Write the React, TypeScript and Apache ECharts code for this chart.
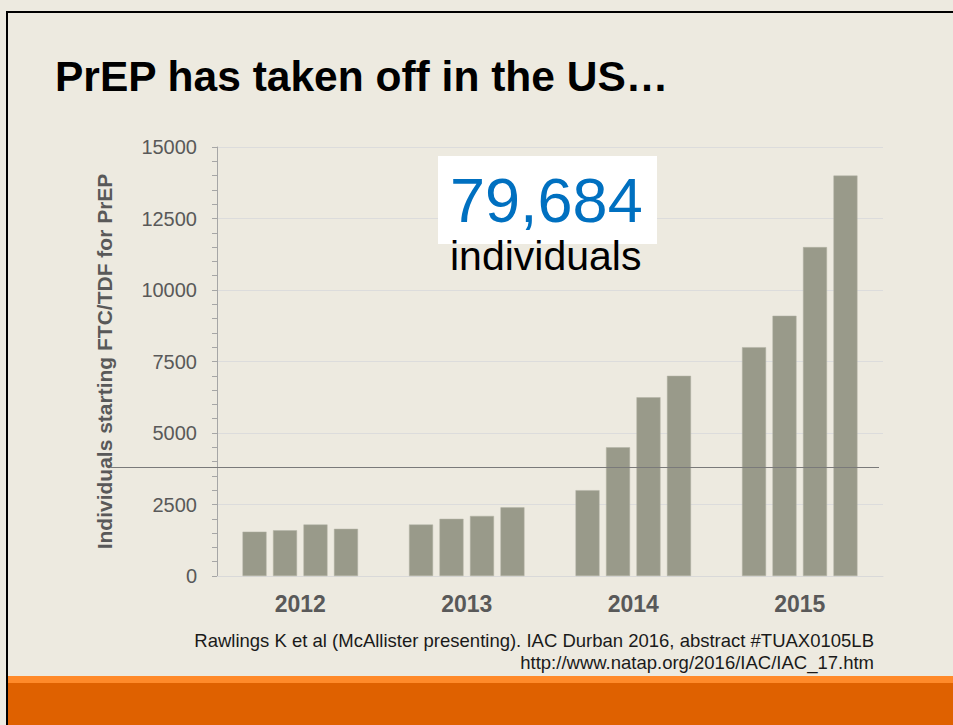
import React, { useEffect, useRef } from "react";
import * as echarts from "echarts";

const years = ["2012", "2013", "2014", "2015"];
const q1 = [1550, 1800, 3000, 8000];
const q2 = [1600, 2000, 4500, 9100];
const q3 = [1800, 2100, 6250, 11500];
const q4 = [1650, 2400, 7000, 14000];
const quarterNames = ["Q1", "Q2", "Q3", "Q4"];
const yMin = 0;
const yMax = 15000;
const yInterval = 2500;

const title = "PrEP has taken off in the US…";
const bigNumber = "79,684";
const bigNumberCaption = "individuals";
const yAxisName = "Individuals starting FTC/TDF for PrEP";
const citation1 = "Rawlings K et al (McAllister presenting). IAC Durban 2016, abstract #TUAX0105LB";
const citation2 = "http://www.natap.org/2016/IAC/IAC_17.htm";

const FONT = "'Liberation Sans', Arial, Helvetica, sans-serif";
const BAR = "#999a8a";
const AXIS_TEXT = "#595959";

export default function App() {
  const ref = useRef<HTMLDivElement>(null);

  useEffect(() => {
    if (!ref.current) return;
    const chart = echarts.init(ref.current, null, { renderer: "svg" });
    const seriesData = [q1, q2, q3, q4];
    chart.setOption({
      animation: false,
      backgroundColor: "#edeae0",
      textStyle: { fontFamily: FONT },
      grid: { left: 217, right: 70, top: 147, bottom: 149, containLabel: false },
      xAxis: {
        type: "category",
        data: years,
        axisLine: { show: true, lineStyle: { color: "#d9d9d9", width: 1 } },
        axisTick: { show: false },
        axisLabel: {
          color: AXIS_TEXT,
          fontSize: 23,
          fontWeight: "bold",
          fontFamily: FONT,
          margin: 16,
        },
      },
      yAxis: {
        type: "value",
        min: yMin,
        max: yMax,
        interval: yInterval,
        name: yAxisName,
        nameLocation: "middle",
        nameGap: 102,
        nameTextStyle: {
          color: AXIS_TEXT,
          fontSize: 21,
          fontWeight: "bold",
          fontFamily: FONT,
        },
        axisLine: { show: true, lineStyle: { color: "#a6a6a6", width: 1 } },
        axisTick: { show: true, length: 5, lineStyle: { color: "#a6a6a6" } },
        minorTick: { show: true, splitNumber: 5, length: 5, lineStyle: { color: "#a6a6a6" } },
        axisLabel: {
          color: AXIS_TEXT,
          fontSize: 20,
          fontFamily: FONT,
          margin: 20,
          formatter: (v: number) => String(v),
        },
        splitLine: { show: true, lineStyle: { color: "#dcdcdc", width: 1 } },
      },
      series: seriesData.map((d, i) => ({
        type: "bar",
        name: quarterNames[i],
        data: d,
        barWidth: 24,
        barGap: "27%",
        itemStyle: { color: BAR, borderColor: "#b3b3a5", borderWidth: 0.5 },
      })),
      graphic: [
        // slide border
        { type: "rect", shape: { x: 6, y: 11, width: 947, height: 2 }, style: { fill: "#000" } },
        { type: "rect", shape: { x: 6, y: 11, width: 2, height: 714 }, style: { fill: "#000" } },
        // orange footer
        { type: "rect", shape: { x: 8, y: 676, width: 945, height: 7 }, style: { fill: "#ff8a2a" } },
        { type: "rect", shape: { x: 8, y: 683, width: 945, height: 42 }, style: { fill: "#df6100" } },
        // title
        {
          type: "text",
          x: 55,
          y: 76,
          style: {
            text: title,
            fill: "#000",
            font: `bold 42.5px ${FONT}`,
            align: "left",
            verticalAlign: "middle",
          },
        },
        // stray horizontal line
        {
          type: "line",
          shape: { x1: 110, y1: 467.5, x2: 879, y2: 467.5 },
          style: { stroke: "#7a7a7a", lineWidth: 1 },
          z: 10,
        },
        // annotation box
        { type: "rect", shape: { x: 438, y: 156, width: 219, height: 88 }, style: { fill: "#ffffff" }, z: 10 },
        {
          type: "text",
          x: 450,
          y: 200,
          z: 11,
          style: {
            text: bigNumber,
            fill: "#0070c0",
            font: `63px ${FONT}`,
            align: "left",
            verticalAlign: "middle",
          },
        },
        {
          type: "text",
          x: 450,
          y: 256,
          z: 11,
          style: {
            text: bigNumberCaption,
            fill: "#000",
            font: `41px ${FONT}`,
            align: "left",
            verticalAlign: "middle",
          },
        },
        // citation
        {
          type: "text",
          x: 874,
          y: 640,
          style: {
            text: citation1,
            fill: "#1a1a1a",
            font: `18.5px ${FONT}`,
            align: "right",
            verticalAlign: "middle",
          },
        },
        {
          type: "text",
          x: 874,
          y: 662,
          style: {
            text: citation2,
            fill: "#1a1a1a",
            font: `18.5px ${FONT}`,
            align: "right",
            verticalAlign: "middle",
          },
        },
      ],
    });
    return () => chart.dispose();
  }, []);

  return (
    <div
      ref={ref}
      style={{ position: "fixed", left: 0, top: 0, width: 953, height: 725, background: "#ffffff" }}
    />
  );
}
